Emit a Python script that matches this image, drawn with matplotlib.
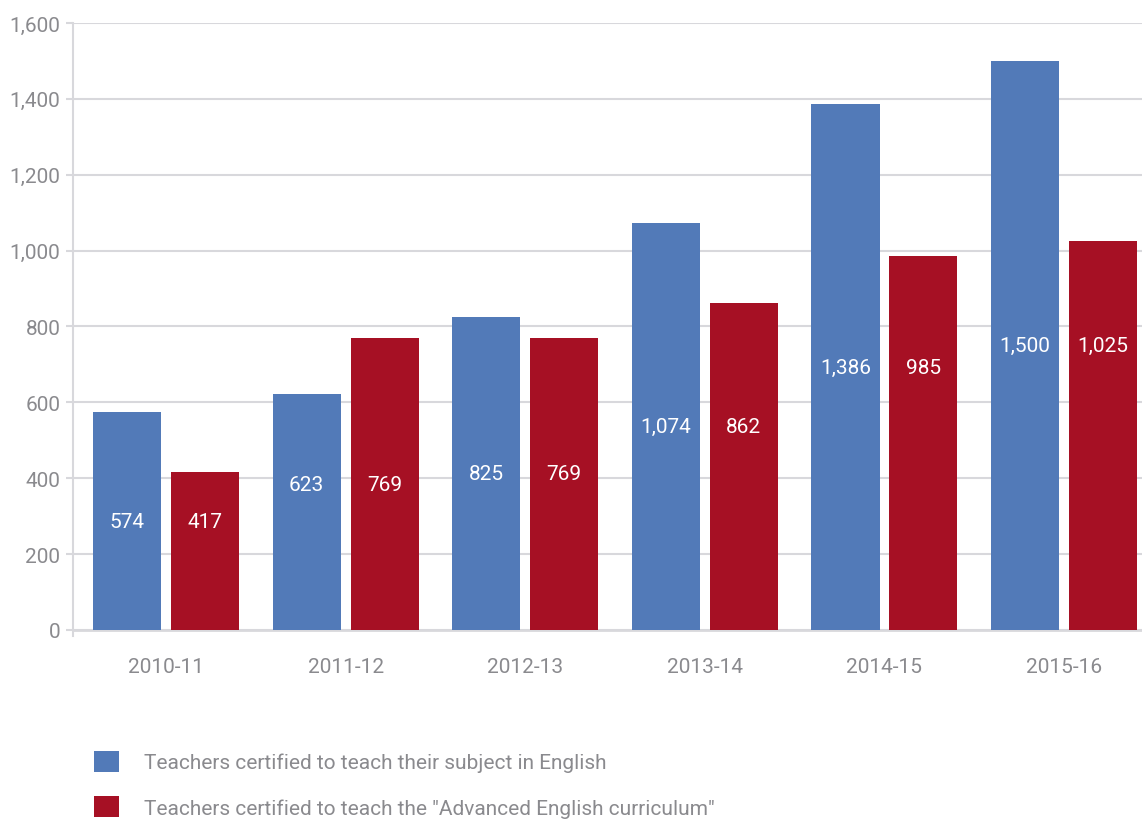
import matplotlib
matplotlib.use("Agg")
import matplotlib.pyplot as plt
import numpy as np

plt.rcParams['font.family'] = ['Roboto', 'DejaVu Sans']

years = ["2010-11", "2011-12", "2012-13", "2013-14", "2014-15", "2015-16"]
subject_english = [574, 623, 825, 1074, 1386, 1500]
advanced_curriculum = [417, 769, 769, 862, 985, 1025]
series_names = ["Teachers certified to teach their subject in English",
                'Teachers certified to teach the "Advanced English curriculum"']

blue = "#527ab8"
red = "#a61024"
grey_text = "#8a8a8e"
grey_line = "#d8d8dc"

fig = plt.figure(figsize=(11.42, 8.2), dpi=100)
ax = fig.add_axes([0.0639, 0.2232, 0.9361, 0.7475])

x = np.arange(len(years))
w = 0.379
off = 0.217
b1 = ax.bar(x - off, subject_english, w, color=blue, zorder=3)
b2 = ax.bar(x + off, advanced_curriculum, w, color=red, zorder=3)

# value labels sit at the same height within each pair
for i in range(len(years)):
    y_lab = max(subject_english[i], advanced_curriculum[i]) / 2
    ax.text(x[i] - off, y_lab, f"{subject_english[i]:,}", color="white",
            ha="center", va="center", fontsize=15, zorder=4)
    ax.text(x[i] + off, y_lab, f"{advanced_curriculum[i]:,}", color="white",
            ha="center", va="center", fontsize=15, zorder=4)

ax.set_xlim(-0.518, 5.434)
ax.set_ylim(-16, 1600)
ax.set_yticks(np.arange(0, 1601, 200))
ax.set_yticklabels([f"{v:,}" for v in range(0, 1601, 200)])
ax.set_xticks(x)
ax.set_xticklabels(years)

ax.grid(axis="y", color=grey_line, linewidth=1.5, zorder=0)
ax.axhline(0, color=grey_line, linewidth=2, zorder=2)
for s in ["top", "right", "bottom"]:
    ax.spines[s].set_visible(False)
ax.spines["left"].set_color(grey_line)
ax.spines["left"].set_linewidth(1.5)

ax.tick_params(axis="y", colors=grey_line, labelcolor=grey_text, labelsize=15,
               length=5, width=1.5, pad=4)
ax.tick_params(axis="x", length=0, labelcolor=grey_text, labelsize=15, pad=15)

fig.legend([b1, b2], series_names, loc="upper left",
           bbox_to_anchor=(0.082, 0.083), frameon=False, fontsize=15,
           labelcolor=grey_text, handlelength=1.2, handleheight=1.15,
           handletextpad=1.2, labelspacing=1.15, borderpad=0, borderaxespad=0)

fig.savefig("out.png", dpi=100)
